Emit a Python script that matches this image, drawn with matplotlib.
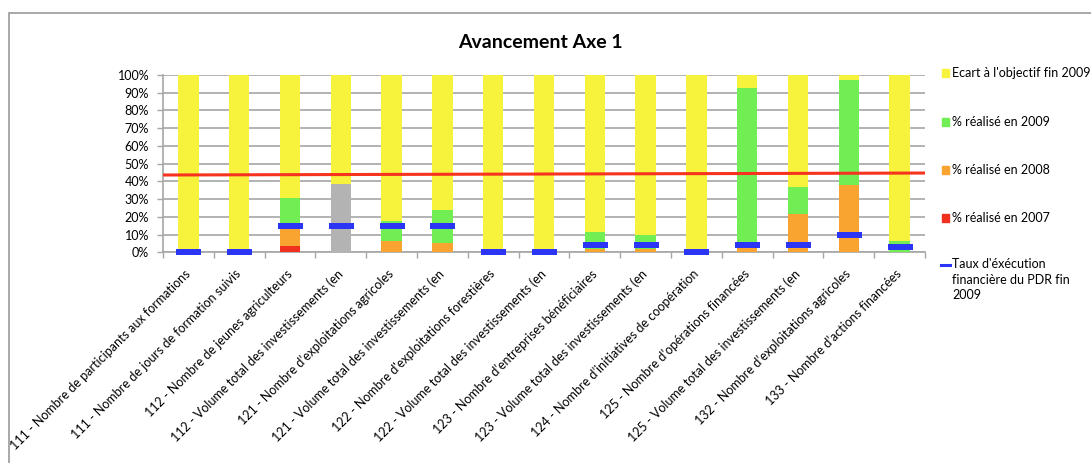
import matplotlib
matplotlib.use("Agg")
import matplotlib.pyplot as plt
import numpy as np
from matplotlib.patches import Rectangle
from matplotlib.lines import Line2D

plt.rcParams['font.family'] = ['Lato', 'DejaVu Sans']

categories = [
    "111 - Nombre de participants aux formations",
    "111 - Nombre de jours de formation suivis",
    "112 - Nombre de jeunes agriculteurs",
    "112 - Volume total des investissements (en",
    "121 - Nombre d\u2019exploitations agricoles",
    "121 - Volume total des investissements (en",
    "122 - Nombre d'exploitations forestières",
    "122 - Volume total des investissements (en",
    "123 - Nombre d\u2019entreprises bénéficiaires",
    "123 - Volume total des investissements (en",
    "124 - Nombre d\u2019initiatives de coopération",
    "125 - Nombre d\u2019opérations financées",
    "125 - Volume total des investissements (en",
    "132 - Nombre d\u2019exploitations agricoles",
    "133 - Nombre d\u2019actions financées",
]
real_2007 = [0, 0, 3.7, 0, 0, 0, 0, 0, 0, 0, 0, 0, 0, 0, 0]
real_2008 = [0, 0, 10.5, 0, 6.4, 5.2, 0, 0, 2, 2, 0, 3, 21.8, 37.8, 0]
real_2009 = [0, 0, 16.3, 0, 11.1, 18.7, 0, 0, 9.4, 7.9, 0, 89.7, 15.0, 59.4, 6.4]
real_other = [0, 0, 0, 38.4, 0, 0, 0, 0, 0, 0, 0, 0, 0, 0, 0]
taux_exec = [0, 0, 14.8, 14.8, 14.8, 14.8, 0, 0, 3.9, 3.9, 0, 3.9, 3.9, 9.8, 2.8]
red_line = [43.6, 44.7]
legend_labels = ["Ecart à l'objectif fin 2009", "% réalisé en 2009", "% réalisé en 2008",
                 "% réalisé en 2007", "Taux d'éxécution\nfinancière du PDR fin\n2009"]
yticks = list(range(0, 101, 10))

c_yellow = "#F7F23C"
c_green = "#72EE55"
c_orange = "#F9A431"
c_red = "#F0301E"
c_gray = "#B3B3B3"
c_blue = "#2A35F5"
c_line = "#F5331E"

W, H = 1091, 463
fig = plt.figure(figsize=(W / 100, H / 100), dpi=100)
ax = fig.add_axes([163 / W, 1 - 252.3 / H, (925 - 163) / W, (252.3 - 75) / H])

x = np.arange(len(categories))
r07 = np.array(real_2007)
r08 = np.array(real_2008)
r09 = np.array(real_2009)
rot = np.array(real_other)
ecart = 100 - (r07 + r08 + r09 + rot)
bw = 0.4
b = np.zeros(len(x))
for vals, col in [(r07, c_red), (r08, c_orange), (r09, c_green), (rot, c_gray), (ecart, c_yellow)]:
    ax.bar(x, vals, bw, bottom=b, color=col, linewidth=0, zorder=3)
    b = b + vals

# red line across the full plot
ax.plot([-0.5, len(x) - 0.5], red_line, color=c_line, lw=2.2, zorder=5, solid_capstyle='butt')

# blue markers
verts = [(-1, -0.25), (1, -0.25), (1, 0.25), (-1, 0.25), (-1, -0.25)]
ax.plot(x, taux_exec, linestyle='none', marker=verts, markersize=25 * 0.72,
        color=c_blue, markeredgewidth=0, zorder=6, clip_on=False)

ax.set_xlim(-0.5, len(x) - 0.5)
ax.set_ylim(0, 100)
ax.set_yticks(yticks)
ax.set_yticklabels([f"{v}%" for v in yticks], fontsize=9)
ax.yaxis.grid(True, color="#A6A6A6", lw=1.2, zorder=0)
ax.tick_params(axis='y', direction='out', length=4, color="#A6A6A6", width=1, pad=6)

ax.set_xticks(x)
ax.set_xticklabels(categories, rotation=45, ha='right', va='center',
                   rotation_mode='anchor', fontsize=9)
ax.tick_params(axis='x', which='major', length=0, pad=14)
ax.set_xticks(np.arange(-0.5, len(x), 1), minor=True)
ax.tick_params(axis='x', which='minor', direction='out', length=4, color="#A6A6A6", width=1)

for s in ['top', 'right']:
    ax.spines[s].set_visible(False)
for s in ['left', 'bottom']:
    ax.spines[s].set_color("#A6A6A6")
    ax.spines[s].set_linewidth(1.2)

fig.text(540 / W, 1 - 42 / H, "Avancement Axe 1", ha='center', va='center',
         fontsize=14, fontweight='bold')

# legend (manual placement)
leg_colors = [c_yellow, c_green, c_orange, c_red]
leg_y = [73, 122, 170, 218]
for lab, col, yy in zip(legend_labels[:4], leg_colors, leg_y):
    fig.patches.append(Rectangle((942 / W, 1 - (yy + 4) / H), 7 / W, 8 / H,
                                 transform=fig.transFigure, color=col, figure=fig))
    fig.text(952 / W, 1 - yy / H, lab, ha='left', va='center', fontsize=9)
fig.lines.append(Line2D([941 / W, 950 / W], [1 - 265 / H, 1 - 265 / H],
                        transform=fig.transFigure, color=c_blue, lw=2.2, figure=fig))
fig.text(952 / W, 1 - 258 / H, legend_labels[4], ha='left', va='top', fontsize=9,
         linespacing=1.35)

# outer frame
fig.patches.append(Rectangle((9 / W, -0.1), 1.2, 1 - 13 / H + 0.1, transform=fig.transFigure,
                             fill=False, edgecolor="#999999", lw=1.2, figure=fig))

fig.savefig("out.png", dpi=100)
